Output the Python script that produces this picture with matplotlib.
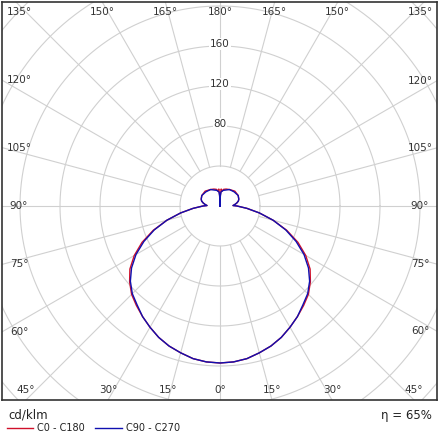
import numpy as np
import matplotlib
matplotlib.use("Agg")
import matplotlib.pyplot as plt
from matplotlib.lines import Line2D

angles = [0, 5, 10, 15, 20, 25, 30, 35, 40, 45, 50, 55, 60, 65, 70, 75, 80, 85, 88, 90, 92, 96, 100, 105, 110, 120, 135, 150, 160, 168, 172, 176, 178, 180]
c0_c180 = [157, 156.5, 155, 152, 149, 145, 140, 135, 130, 125, 118, 110, 99, 86, 71, 55, 40, 27, 20, 17, 13, 15, 17, 19, 20, 21, 21, 19, 18, 17, 15, 17, 11, 0]
c90_c270 = [157, 156.5, 155, 152, 149, 145, 140, 135, 129, 124, 117, 108, 97, 84, 70, 55, 40, 27, 20, 17, 13, 15, 17, 19, 20, 21, 20, 19, 17, 16, 15, 14, 10, 0]
ring_values = [40, 80, 120, 160, 200, 240, 280]
ring_labels = ["80", "120", "160"]
eta_text = "η = 65%"

fig = plt.figure(figsize=(4.4, 4.4), dpi=100)
L, R, T, B = 2, 437, 2, 400
cx, cy = 220, 206
ax = fig.add_axes([L/440, 1 - B/440, (R-L)/440, (B-T)/440])
ax.set_xlim(L - cx, R - cx)
ax.set_ylim(cy - B, cy - T)
ax.set_xticks([]); ax.set_yticks([])
for s in ax.spines.values():
    s.set_linewidth(1.2); s.set_color("#333333")

gc = "#d0d0d0"
tt = np.linspace(0, 2*np.pi, 400)
for r in ring_values:
    ax.plot(r*np.cos(tt), r*np.sin(tt), color=gc, lw=0.8, zorder=1)
for a in range(0, 360, 15):
    th = np.radians(a)
    ax.plot([40*np.sin(th), 400*np.sin(th)], [-40*np.cos(th), -400*np.cos(th)], color=gc, lw=0.8, zorder=1)

def curve(vals):
    th = np.radians(np.array(angles, float))
    v = np.array(vals, float)
    full_th = np.concatenate([-th[::-1], th[1:]])
    full_v = np.concatenate([v[::-1], v[1:]])
    return full_v*np.sin(full_th), -full_v*np.cos(full_th)

x, y = curve(c0_c180)
ax.plot(x, y, color="#d0102a", lw=1.0, zorder=3)
x, y = curve(c90_c270)
ax.plot(x, y, color="#1010b0", lw=1.0, zorder=4)

for lab in ring_labels:
    r = float(lab)
    ax.text(0, r + 2, lab, ha="center", va="center", fontsize=7.5, color="#333333",
            bbox=dict(facecolor="white", edgecolor="none", pad=0.5), zorder=5)

xmin, xmax = L - cx, R - cx
ymin, ymax = cy - B, cy - T
for a in range(-165, 181, 15):
    th = np.radians(a)
    dx, dy = np.sin(th), -np.cos(th)
    ts = []
    if dx > 1e-9: ts.append(xmax/dx)
    if dx < -1e-9: ts.append(xmin/dx)
    if dy > 1e-9: ts.append(ymax/dy)
    if dy < -1e-9: ts.append(ymin/dy)
    t = min(ts)
    px, py = dx*t, dy*t
    px = min(max(px, xmin + 17), xmax - 17)
    py = min(max(py, ymin + 10), ymax - 10)
    ax.text(px, py, f"{abs(a)}°", ha="center", va="center", fontsize=7.5, color="#333333", zorder=5)

fig.text(8/440, 1 - 415/440, "cd/klm", fontsize=8.5, va="center", color="#222222")
fig.text(432/440, 1 - 415/440, eta_text, fontsize=8.5, va="center", ha="right", color="#222222")
fig.add_artist(Line2D([7/440, 33/440], [1 - 428/440]*2, color="#d0102a", lw=1))
fig.text(37/440, 1 - 428/440, "C0 - C180", fontsize=7, va="center", color="#222222")
fig.add_artist(Line2D([95/440, 122/440], [1 - 428/440]*2, color="#1010b0", lw=1))
fig.text(126/440, 1 - 428/440, "C90 - C270", fontsize=7, va="center", color="#222222")

fig.savefig("out.png", dpi=100)
